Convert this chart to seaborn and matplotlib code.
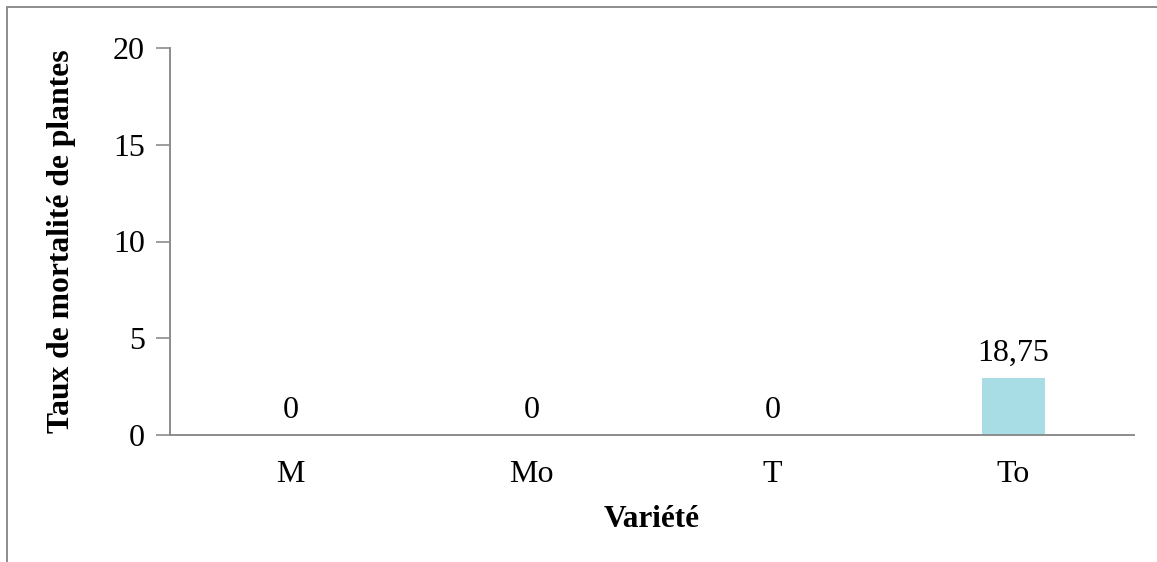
import matplotlib
matplotlib.use("Agg")
import matplotlib.pyplot as plt
import seaborn as sns
import pandas as pd
from matplotlib.patches import Rectangle

categories = ["M", "Mo", "T", "To"]
bar_heights = [0, 0, 0, 2.95]
value_labels = ["0", "0", "0", "18,75"]
y_ticks = [0, 5, 10, 15, 20]

sns.set_theme(style="white")
plt.rcParams["font.family"] = ["Liberation Serif", "DejaVu Serif"]

df = pd.DataFrame({"Variété": categories, "Taux": bar_heights})

fig = plt.figure(figsize=(11.57, 5.62), dpi=100)
ax = fig.add_axes([170/1157, (562-435)/562, (1134-170)/1157, (435-48)/562])

sns.barplot(data=df, x="Variété", y="Taux", ax=ax, width=0.26,
            color="#a8dde5", saturation=1, edgecolor="none")

ax.bar_label(ax.containers[0], labels=value_labels, padding=7, fontsize=23, color="black")

ax.set_ylim(0, 20)
ax.set_yticks(y_ticks)
ax.set_yticklabels([str(t) for t in y_ticks], fontsize=23, color="black")
ax.set_xlim(-0.5, 3.5)
ax.tick_params(axis="x", length=0, labelsize=23, colors="black", pad=18)
ax.tick_params(axis="y", length=10, width=1.2, color="#8c8c8c", pad=8, left=True)

for s in ["top", "right"]:
    ax.spines[s].set_visible(False)
for s in ["left", "bottom"]:
    ax.spines[s].set_color("#8c8c8c")
    ax.spines[s].set_linewidth(1.4)

ax.set_xlabel("Variété", fontsize=22.5, fontweight="bold", color="black")
ax.xaxis.set_label_coords(0.5, -0.18)
ax.set_ylabel("Taux de mortalité de plantes", fontsize=22.8, fontweight="bold", color="black")
ax.yaxis.set_label_coords(-(170-76)/964, 0.5)

border = Rectangle((7/1157, -0.5), 2, 0.5 + (562-7)/562, transform=fig.transFigure,
                   fill=False, edgecolor="#8c8c8c", linewidth=1.4, clip_on=False)
fig.patches.append(border)

fig.savefig("out.png", dpi=100)
